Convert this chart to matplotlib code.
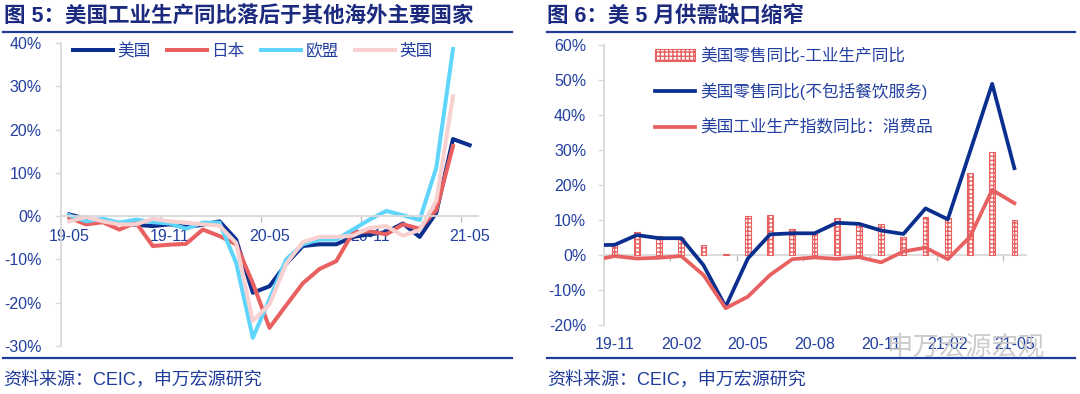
import numpy as np
import matplotlib
matplotlib.use("Agg")
import matplotlib.pyplot as plt
from matplotlib.lines import Line2D
from matplotlib.patches import Patch

plt.rcParams['font.family'] = ['Liberation Sans', 'Noto Sans CJK SC']

# 图5：工业生产同比（%）
months_l = ['19-05', '19-06', '19-07', '19-08', '19-09', '19-10', '19-11', '19-12',
            '20-01', '20-02', '20-03', '20-04', '20-05', '20-06', '20-07', '20-08',
            '20-09', '20-10', '20-11', '20-12', '21-01', '21-02', '21-03', '21-04', '21-05']
us_ip = [0.4, -0.6, -1.2, -1.7, -2.0, -2.3, -1.9, -2.5, -2.0, -1.2, -5.4, -17.7, -16.2,
         -11.0, -6.9, -6.5, -6.5, -4.8, -4.2, -3.7, -1.7, -4.8, 0.8, 17.8, 16.4]
jp_ip = [-0.4, -1.9, -1.4, -3.1, -1.5, -6.9, -6.6, -6.4, -3.1, -4.6, -6.5, -15.5, -25.8,
         -20.6, -15.5, -12.2, -10.4, -3.8, -3.5, -4.2, -1.9, -2.9, 1.4, 16.2, np.nan]
eu_ip = [0.2, -1.2, -0.6, -1.5, -0.8, -1.4, -1.7, -2.9, -1.5, -1.5, -10.8, -28.1, -19.2,
         -10.0, -6.5, -5.4, -5.4, -3.1, -0.8, 1.2, 0.2, -0.9, 11.2, 38.6, np.nan]
uk_ip = [-1.2, -0.2, -1.2, -1.9, -1.9, -0.6, -1.2, -1.5, -1.9, -2.2, -6.2, -24.2, -20.4,
         -11.0, -6.0, -4.8, -4.8, -4.5, -2.7, -2.3, -4.5, -3.2, 3.5, 27.7, np.nan]

# 图6：美国零售与工业生产（%）
months_r = ['19-10', '19-11', '19-12', '20-01', '20-02', '20-03', '20-04', '20-05',
            '20-06', '20-07', '20-08', '20-09', '20-10', '20-11', '20-12', '21-01',
            '21-02', '21-03', '21-04', '21-05']
retail = [2.8, 2.9, 5.7, 4.8, 4.8, -2.9, -14.8, -1.0, 5.9, 6.2, 6.2, 9.2, 8.9, 7.0,
          6.0, 13.3, 10.2, 29.5, 48.9, 24.8]
ip_cons = [-1.6, -0.3, -1.0, -0.8, -0.3, -5.7, -15.2, -11.9, -5.7, -1.2, -0.7, -1.1,
           -0.6, -2.1, 1.0, 2.1, -1.2, 5.2, 18.6, 14.8]
gap = [4.4, 2.8, 6.7, 5.5, 5.0, 3.0, 0.4, 11.1, 11.4, 7.3, 6.4, 10.5, 9.2, 9.0, 5.1,
       11.0, 10.5, 23.5, 29.5, 10.0]

NAVY = '#0A2F8F'
RED = '#E8605F'
CYAN = '#5FD5FB'
PINK = '#F8D0D0'
TXT = '#2340A0'
TITLE = '#1B2A7E'
GRAY = '#D9D9D9'
RULE = '#1F3C99'

W, H = 1080, 394
fig = plt.figure(figsize=(W / 100, H / 100), dpi=100)

# ---------- 左图 ----------
axL = fig.add_axes([61 / W, 1 - 346 / H, (478 - 61) / W, (346 - 43) / H])
xl = np.arange(len(months_l))
axL.plot(xl, us_ip, color=NAVY, lw=2.9, label='美国')
axL.plot(xl, jp_ip, color=RED, lw=2.9, label='日本')
axL.plot(xl, eu_ip, color=CYAN, lw=2.9, label='欧盟')
axL.plot(xl, uk_ip, color=PINK, lw=2.9, label='英国')
axL.set_xlim(-0.5, len(months_l) - 0.5)
axL.set_ylim(-30, 40)
for s in ['top', 'right']:
    axL.spines[s].set_visible(False)
axL.spines['bottom'].set_position(('data', 0))
axL.spines['bottom'].set_color(GRAY)
axL.spines['bottom'].set_linewidth(1.3)
axL.spines['left'].set_color(GRAY)
axL.spines['left'].set_linewidth(1.3)
axL.set_xticks(xl[::6], [months_l[i] for i in xl[::6]])
axL.set_xticks(xl[6::6] - 0.5, minor=True)
axL.tick_params(axis='x', which='major', length=0, pad=9.5, labelsize=11.5, labelcolor=TXT)
axL.tick_params(axis='x', which='minor', length=4, color='#BFBFBF', width=1)
yt = np.arange(-30, 41, 10)
axL.set_yticks(yt, [f'{v}%' for v in yt])
axL.tick_params(axis='y', length=4, color=GRAY, width=1, pad=10, labelsize=11.5, labelcolor=TXT)
axL.set_axisbelow(True)
axL.legend(ncol=4, loc='upper left', bbox_to_anchor=(0.029, 1.0), frameon=False,
           fontsize=12, handlelength=2.4, handletextpad=0.25, columnspacing=1.0,
           borderpad=0, borderaxespad=0, labelcolor=TXT)

# ---------- 右图 ----------
axR = fig.add_axes([603.5 / W, 1 - 325 / H, 422 / W, 280 / H])
xr = np.arange(len(months_r))
axR.bar(xr, gap, width=0.26, color='white', edgecolor=RED, hatch='++++', lw=0.8, zorder=2)
axR.plot(xr, retail, color=NAVY, lw=2.7, zorder=3)
axR.plot(xr, ip_cons, color=RED, lw=2.7, zorder=3)
axR.set_xlim(0.5, len(months_r) - 0.5)
ymin, ymax = -20, 60
axR.set_ylim(ymin, ymax)
for s in ['top', 'right', 'bottom']:
    axR.spines[s].set_visible(False)
axR.spines['left'].set_color(GRAY)
axR.spines['left'].set_linewidth(1.3)
axR.set_xticks(xr[1::3], [months_r[i] for i in xr[1::3]])
axR.tick_params(axis='x', length=0, pad=8.5, labelsize=11.5, labelcolor=TXT)
yr = np.arange(ymin, ymax + 1, 10)
axR.set_yticks(yr, [f'{v}%' for v in yr])
axR.tick_params(axis='y', length=4, color=GRAY, width=1, pad=8.5, labelsize=11.5, labelcolor=TXT)
axR.set_axisbelow(True)
zero = axR.secondary_xaxis((0 - ymin) / (ymax - ymin))
zero.spines['bottom'].set_color(GRAY)
zero.spines['bottom'].set_linewidth(1.3)
zero.set_xticks(xr[4::3] - 0.5, [''] * len(xr[4::3]))
zero.tick_params(axis='x', length=4, color='#BFBFBF', width=1)
zero.set_zorder(1)

handles = [Patch(facecolor='white', edgecolor=RED, hatch='++++', lw=0.8),
           Line2D([], [], color=NAVY, lw=2.7),
           Line2D([], [], color=RED, lw=2.7)]
labels = ['美国零售同比-工业生产同比', '美国零售同比(不包括餐饮服务)', '美国工业生产指数同比：消费品']
axR.legend(handles, labels, loc='upper left', bbox_to_anchor=(0.122, 0.99), frameon=False,
           fontsize=12, handlelength=2.4, handletextpad=0.3, labelspacing=1.15,
           borderpad=0, borderaxespad=0, labelcolor=TXT)

# ---------- 标题、来源、分隔线 ----------
fig.text(4 / W, 1 - 17 / H, '图 5：美国工业生产同比落后于其他海外主要国家', fontsize=15.5,
         fontweight='bold', color=TITLE, va='center', ha='left')
fig.text(547 / W, 1 - 17 / H, '图 6：美 5 月供需缺口缩窄', fontsize=15.5,
         fontweight='bold', color=TITLE, va='center', ha='left')
for x0, x1 in [(3, 512), (547, 1075)]:
    for yy in [31.7, 358.3]:
        fig.add_artist(Line2D([x0 / W, x1 / W], [1 - yy / H, 1 - yy / H], color=RULE, lw=1.6))
fig.text(3 / W, 1 - 380 / H, '资料来源：CEIC，申万宏源研究', fontsize=13, color=RULE,
         va='center', ha='left')
fig.text(547 / W, 1 - 380 / H, '资料来源：CEIC，申万宏源研究', fontsize=13, color=RULE,
         va='center', ha='left')

# 水印
fig.text(886 / W, 1 - 347 / H, '申万宏源宏观', fontsize=19, color='#C4C4C4', alpha=0.85,
         va='center', ha='left', zorder=10)

fig.savefig('out.png', dpi=100)
